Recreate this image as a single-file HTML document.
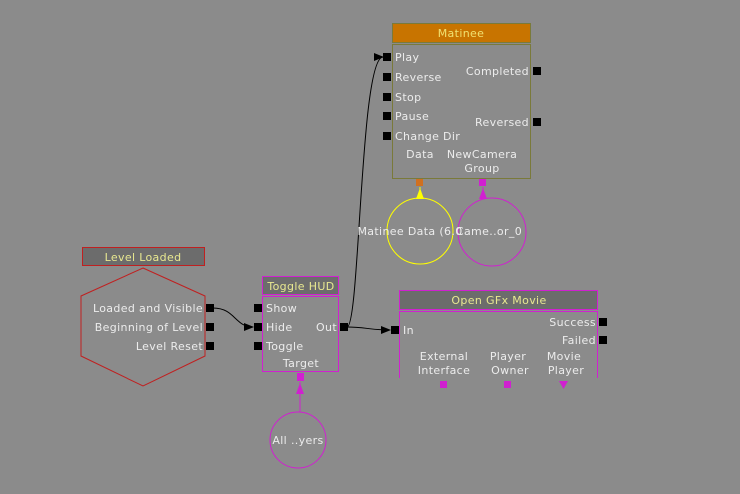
<!DOCTYPE html>
<html><head><meta charset="utf-8"><style>
html,body{margin:0;padding:0;background:#8b8b8b;}
svg{display:block;}
text{font-family:"DejaVu Sans","Liberation Sans",sans-serif;font-size:11px;fill:#ececec;letter-spacing:0.35px;}
.t{fill:#e8e890;}
</style></head><body>
<svg width="740" height="494" viewBox="0 0 740 494" xmlns="http://www.w3.org/2000/svg">
<defs>
<marker id="a" markerWidth="10" markerHeight="8" refX="9" refY="4" orient="auto" markerUnits="userSpaceOnUse"><path d="M0,0 L10,4 L0,8 z" fill="#000"/></marker>
</defs>
<rect width="740" height="494" fill="#8b8b8b"/>

<path d="M213,308 C235,308 235,327 253,327" stroke="#000" fill="none" marker-end="url(#a)"/>
<path d="M347,327 C360,327 360,57 383,57" stroke="#000" fill="none" marker-end="url(#a)"/>
<path d="M347,327 C365,327 370,330 390,330" stroke="#000" fill="none" marker-end="url(#a)"/>

<rect x="392.5" y="23.5" width="138" height="19" fill="#c87400" stroke="#7a7a3a"/>
<text x="461" y="37" class="t" text-anchor="middle" style="fill:#f0e070">Matinee</text>
<rect x="392.5" y="44.5" width="138" height="134" fill="#8b8b8b" stroke="#7a7a3a"/>
<g fill="#000">
<rect x="383" y="53" width="8" height="8"/><rect x="383" y="73" width="8" height="8"/>
<rect x="383" y="93" width="8" height="8"/><rect x="383" y="112" width="8" height="8"/>
<rect x="383" y="132" width="8" height="8"/>
<rect x="533" y="67" width="8" height="8"/><rect x="533" y="118" width="8" height="8"/>
</g>
<text x="395" y="61">Play</text><text x="395" y="81">Reverse</text>
<text x="395" y="101">Stop</text><text x="395" y="120">Pause</text>
<text x="395" y="140">Change Dir</text>
<text x="529" y="75" text-anchor="end">Completed</text>
<text x="529" y="126" text-anchor="end">Reversed</text>
<text x="420" y="158" text-anchor="middle">Data</text>
<text x="482" y="158" text-anchor="middle">NewCamera</text>
<text x="482" y="172" text-anchor="middle">Group</text>
<rect x="416" y="179" width="7" height="7" fill="#d07020"/>
<rect x="479" y="179" width="7" height="7" fill="#d020d0"/>
<line x1="420" y1="198" x2="420" y2="187" stroke="#ffff00"/>
<path d="M416,199 L420,188 L424,199 z" fill="#ffff00"/>
<line x1="483" y1="198" x2="483" y2="187" stroke="#d020d0"/>
<path d="M479,199 L483,188 L487,199 z" fill="#d020d0"/>
<circle cx="420" cy="231" r="33" fill="none" stroke="#ffff00"/>
<circle cx="492" cy="232" r="34" fill="none" stroke="#d020d0"/>
<text x="410" y="235" text-anchor="middle">Matinee Data (6.0</text>
<text x="489" y="235" text-anchor="middle">Came..or_0</text>

<rect x="82.5" y="247.5" width="122" height="18" fill="#6c6c6c" stroke="#c02020"/>
<text x="143" y="261" class="t" text-anchor="middle">Level Loaded</text>
<polygon points="143,268 205,296 205,356 143,386 81,356 81,296" fill="none" stroke="#c02020"/>
<g fill="#000"><rect x="206" y="304" width="8" height="8"/><rect x="206" y="323" width="8" height="8"/><rect x="206" y="342" width="8" height="8"/></g>
<text x="203" y="312" text-anchor="end">Loaded and Visible</text>
<text x="203" y="331" text-anchor="end">Beginning of Level</text>
<text x="203" y="350" text-anchor="end">Level Reset</text>

<rect x="262.5" y="276.5" width="76" height="18" fill="#6c6c6c" stroke="#d020d0"/>
<text x="301" y="290" class="t" text-anchor="middle">Toggle HUD</text>
<rect x="262.5" y="296.5" width="76" height="75" fill="#8b8b8b" stroke="#d020d0"/>
<g fill="#000"><rect x="254" y="304" width="8" height="8"/><rect x="254" y="323" width="8" height="8"/><rect x="254" y="342" width="8" height="8"/><rect x="340" y="323" width="8" height="8"/></g>
<text x="266" y="312">Show</text><text x="266" y="331">Hide</text><text x="266" y="350">Toggle</text>
<text x="337" y="331" text-anchor="end">Out</text>
<text x="301" y="367" text-anchor="middle">Target</text>
<rect x="297" y="373" width="7" height="8" fill="#d020d0"/>
<line x1="300" y1="412" x2="300" y2="382" stroke="#d020d0"/>
<path d="M296,394 L300,383 L304,394 z" fill="#d020d0"/>
<circle cx="298" cy="440" r="28" fill="none" stroke="#d020d0"/>
<text x="298" y="444" text-anchor="middle">All ..yers</text>

<rect x="399.5" y="290.5" width="198" height="19" fill="#6c6c6c" stroke="#d020d0"/>
<text x="499" y="304" class="t" text-anchor="middle">Open GFx Movie</text>
<path d="M399.5,378 V311.5 H597.5 V378" fill="none" stroke="#d020d0"/>
<g fill="#000"><rect x="391" y="326" width="8" height="8"/><rect x="599" y="318" width="8" height="8"/><rect x="599" y="336" width="8" height="8"/></g>
<text x="403" y="334">In</text>
<text x="596" y="326" text-anchor="end">Success</text>
<text x="596" y="344" text-anchor="end">Failed</text>
<text x="444" y="360" text-anchor="middle">External</text>
<text x="444" y="374" text-anchor="middle">Interface</text>
<text x="508" y="360" text-anchor="middle">Player</text>
<text x="510" y="374" text-anchor="middle">Owner</text>
<text x="564" y="360" text-anchor="middle">Movie</text>
<text x="566" y="374" text-anchor="middle">Player</text>
<rect x="440" y="381" width="7" height="7" fill="#d020d0"/>
<rect x="504" y="381" width="7" height="7" fill="#d020d0"/>
<path d="M559,381 L568,381 L563.5,389 z" fill="#d020d0"/>
</svg>
</body></html>
